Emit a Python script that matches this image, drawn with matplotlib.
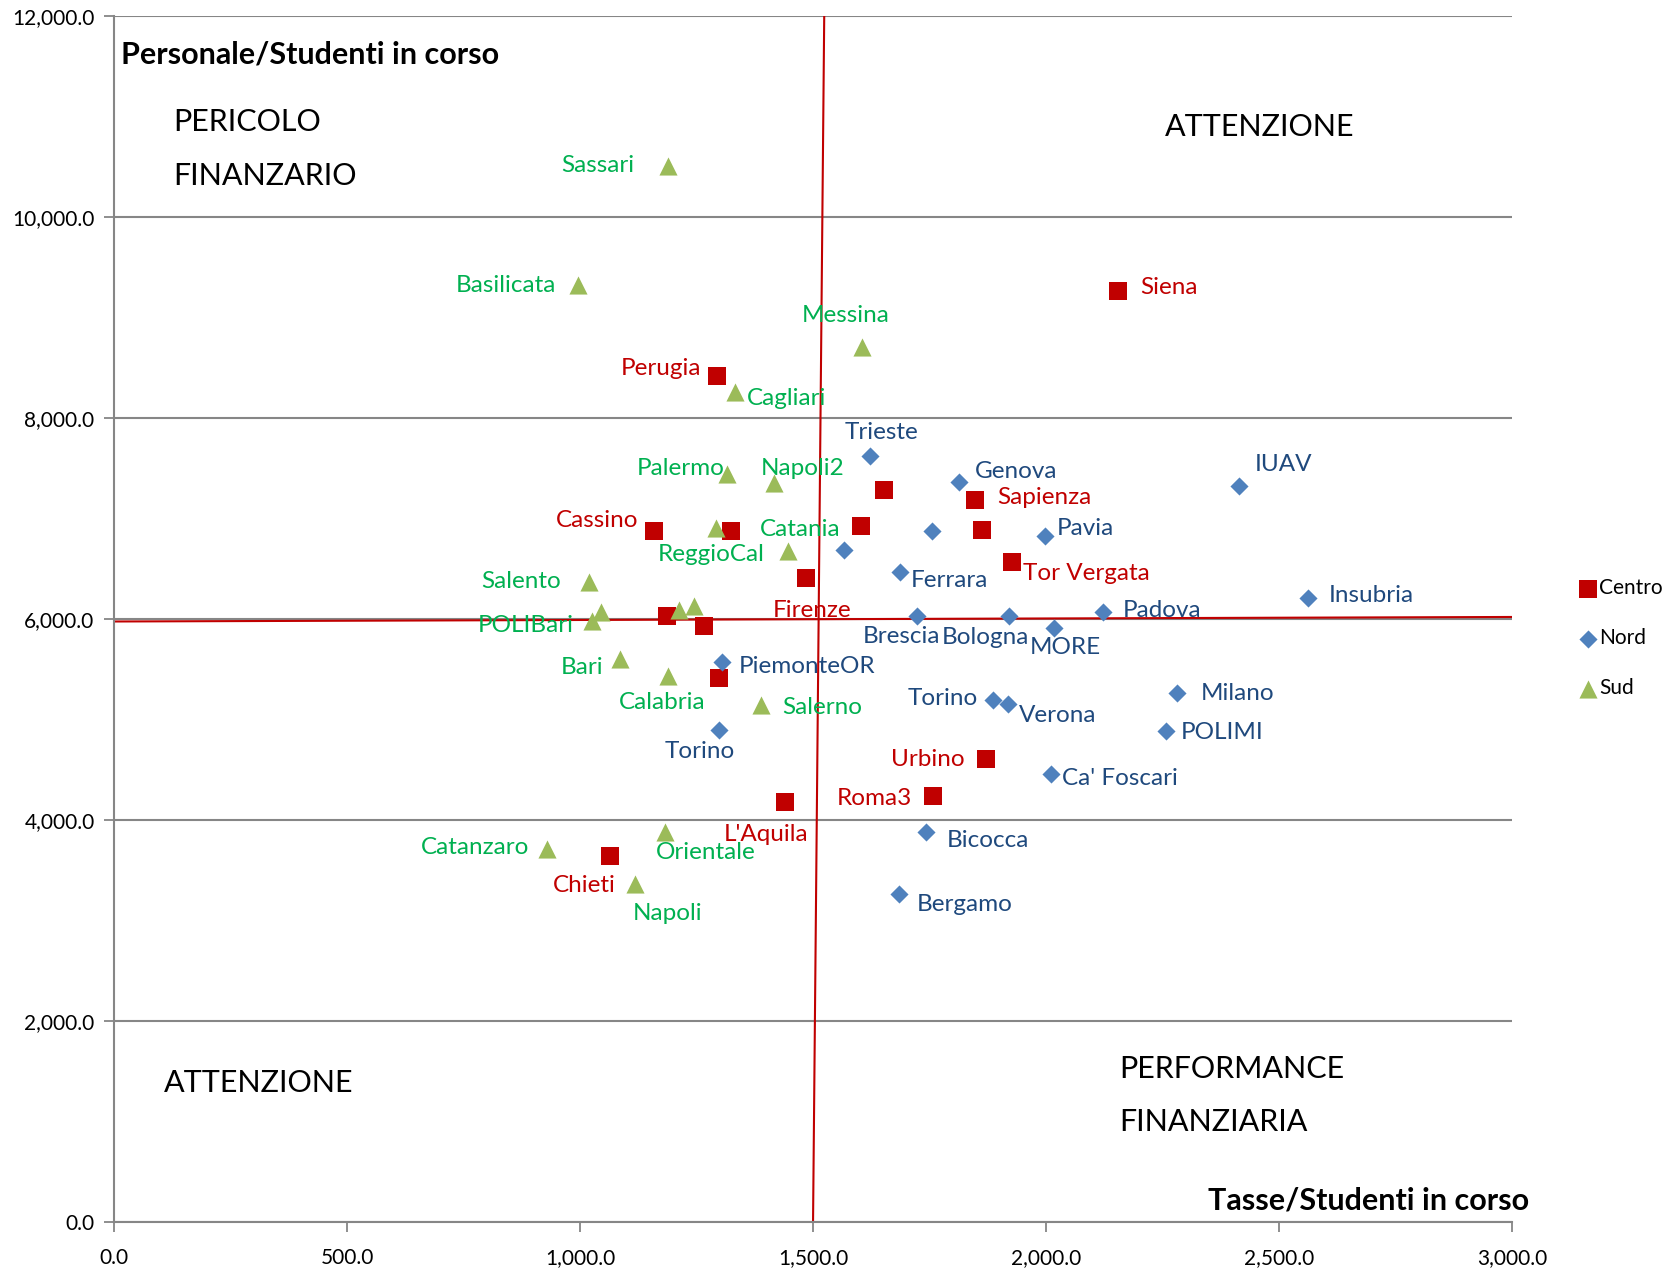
import matplotlib
matplotlib.use('Agg')
import matplotlib.pyplot as plt
from matplotlib.ticker import FuncFormatter

plt.rcParams['font.family'] = ['Lato', 'DejaVu Sans']

# Tasse/Studenti (x) e Personale/Studenti (y) per area
centro_x = [2154, 1293, 1158, 1325, 1652, 1602, 1848, 1862, 1926, 1485, 1186, 1266, 1298, 1871, 1757, 1439, 1065]
centro_y = [9268, 8420, 6872, 6872, 7285, 6925, 7179, 6882, 6564, 6405, 6034, 5928, 5408, 4602, 4242, 4178, 3637]
centro_lab = ['Siena', 'Perugia', 'Cassino', '', '', '', 'Sapienza', '', 'Tor Vergata', 'Firenze',
              '', '', '', 'Urbino', 'Roma3', "L'Aquila", 'Chieti']

nord_x = [1622, 1814, 1755, 1997, 2415, 1567, 1686, 1723, 1921, 2017, 2122, 2563, 1305, 1887, 1919,
          2282, 2257, 1298, 2011, 1743, 1684]
nord_y = [7625, 7359, 6872, 6829, 7328, 6691, 6469, 6034, 6034, 5907, 6066, 6204, 5567, 5196, 5154,
          5260, 4889, 4899, 4454, 3881, 3266]
nord_lab = ['Trieste', 'Genova', '', 'Pavia', 'IUAV', '', 'Ferrara', 'Brescia', 'Bologna', 'MORE',
            'Padova', 'Insubria', 'PiemonteOR', 'Torino', 'Verona', 'Milano', 'POLIMI', 'Torino',
            "Ca' Foscari", 'Bicocca', 'Bergamo']

sud_x = [1188, 996, 1606, 1332, 1316, 1416, 1291, 1446, 1019, 1046, 1026, 1213, 1245, 1085, 1188,
         1389, 1183, 930, 1119]
sud_y = [10509, 9321, 8706, 8261, 7444, 7349, 6903, 6681, 6363, 6066, 5981, 6087, 6129, 5599, 5429,
         5143, 3881, 3712, 3362]
sud_lab = ['Sassari', 'Basilicata', 'Messina', 'Cagliari', 'Palermo', 'Napoli2', 'ReggioCal', 'Catania',
           'Salento', '', 'POLIBari', '', '', 'Bari', 'Calabria', 'Salerno', 'Orientale', 'Catanzaro', 'Napoli']

# linee di riferimento (medie)
ref_h_x = [0, 3000]
ref_h_y = [5975, 6020]
ref_v_x = [1500, 1524]
ref_v_y = [0, 12000]

x_ticks = [0, 500, 1000, 1500, 2000, 2500, 3000]
y_ticks = [0, 2000, 4000, 6000, 8000, 10000, 12000]

# spostamento etichette (punti) e allineamento
centro_off = [(16, 2, 'left'), (-11, 5, 'right'), (-11, 8, 'right'), None, None, None, (16, 2, 'left'), None,
              (8, -8, 'left'), (4, -23, 'center'), None, None, None, (-15, 0, 'right'), (-15, -2, 'right'),
              (-13, -23, 'center'), (-19, -21, 'center')]
nord_off = [(8, 17, 'center'), (11, 8, 'left'), None, (9, 5, 'left'), (11, 15, 'left'), None, (8, -6, 'left'),
            (-11, -15, 'center'), (-17, -16, 'center'), (8, -14, 'center'), (14, 1, 'left'), (15, 2, 'left'),
            (12, -3, 'left'), (-11, 1, 'right'), (8, -8, 'left'), (17, 0, 'left'), (11, -1, 'left'),
            (-14, -16, 'center'), (8, -3, 'left'), (15, -6, 'left'), (13, -8, 'left')]
sud_off = [(-24, 0, 'right'), (-16, 0, 'right'), (-12, 23, 'center'), (9, -5, 'left'), (-2, 4, 'right'),
           (21, 11, 'center'), (-3, -19, 'center'), (9, 15, 'center'), (-20, 1, 'right'), None,
           (-13, -3, 'right'), None, None, (-12, -6, 'right'), (-4, -19, 'center'), (15, -2, 'left'),
           (29, -15, 'center'), (-13, 1, 'right'), (23, -21, 'center')]

fig = plt.figure(figsize=(16.7, 12.71), dpi=100)
ax = fig.add_axes([0.0683, 0.0386, 0.8371, 0.9488])

grid_col = '#868686'
ax.set_xlim(0, 3000)
ax.set_ylim(0, 12000)
ax.set_xticks(x_ticks)
ax.set_yticks(y_ticks)
fmt = FuncFormatter(lambda v, p: f'{v:,.1f}')
ax.xaxis.set_major_formatter(fmt)
ax.yaxis.set_major_formatter(fmt)
ax.tick_params(axis='both', labelsize=15, color=grid_col, width=1.3, length=7, direction='out')
ax.tick_params(axis='x', pad=12)
ax.tick_params(axis='y', pad=7)
for s in ['top', 'right']:
    ax.spines[s].set_visible(False)
for s in ['left', 'bottom']:
    ax.spines[s].set_color(grid_col)
    ax.spines[s].set_linewidth(1.5)
ax.yaxis.grid(True, color=grid_col, linewidth=1.5)
ax.set_axisbelow(True)

ax.plot(ref_h_x, ref_h_y, color='#C00000', lw=1.5, zorder=2)
ax.plot(ref_v_x, ref_v_y, color='#C00000', lw=1.5, zorder=2)

groups = [
    ('Centro', centro_x, centro_y, centro_lab, centro_off, 's', '#C00000', '#C00000', 150),
    ('Nord', nord_x, nord_y, nord_lab, nord_off, 'D', '#4F81BD', '#1F497D', 85),
    ('Sud', sud_x, sud_y, sud_lab, sud_off, '^', '#9BBB59', '#00B050', 170),
]
for name, xs, ys, labs, offs, mk, mcol, tcol, size in groups:
    ax.scatter(xs, ys, marker=mk, s=size, color=mcol, linewidths=0, label=name, zorder=3)
    for x, y, lab, off in zip(xs, ys, labs, offs):
        if lab:
            ax.annotate(lab, (x, y), xytext=(off[0], off[1]), textcoords='offset points',
                        ha=off[2], va='center', fontsize=17.5, color=tcol, zorder=4)

# titoli degli assi
ax.text(0.005, 0.968, 'Personale/Studenti in corso', transform=ax.transAxes, fontsize=22,
        fontweight='bold', ha='left', va='center')
ax.text(1.012, 0.0174, 'Tasse/Studenti in corso', transform=ax.transAxes, fontsize=22,
        fontweight='bold', ha='right', va='center', clip_on=False)

# quadranti
ax.text(0.042, 0.912, 'PERICOLO', transform=ax.transAxes, fontsize=22, va='center')
ax.text(0.042, 0.867, 'FINANZARIO', transform=ax.transAxes, fontsize=22, va='center')
ax.text(0.752, 0.908, 'ATTENZIONE', transform=ax.transAxes, fontsize=22, va='center')
ax.text(0.036, 0.115, 'ATTENZIONE', transform=ax.transAxes, fontsize=22, va='center')
ax.text(0.719, 0.127, 'PERFORMANCE', transform=ax.transAxes, fontsize=22, va='center')
ax.text(0.719, 0.083, 'FINANZIARIA', transform=ax.transAxes, fontsize=22, va='center')

leg = ax.legend(loc='center left', bbox_to_anchor=(1.049, 0.484), frameon=False, fontsize=15,
                borderaxespad=0, borderpad=0, labelspacing=1.45, handlelength=0.7, handletextpad=0.2,
                scatterpoints=1, markerscale=1.0)

fig.savefig('out.png', dpi=100)
plt.close(fig)
